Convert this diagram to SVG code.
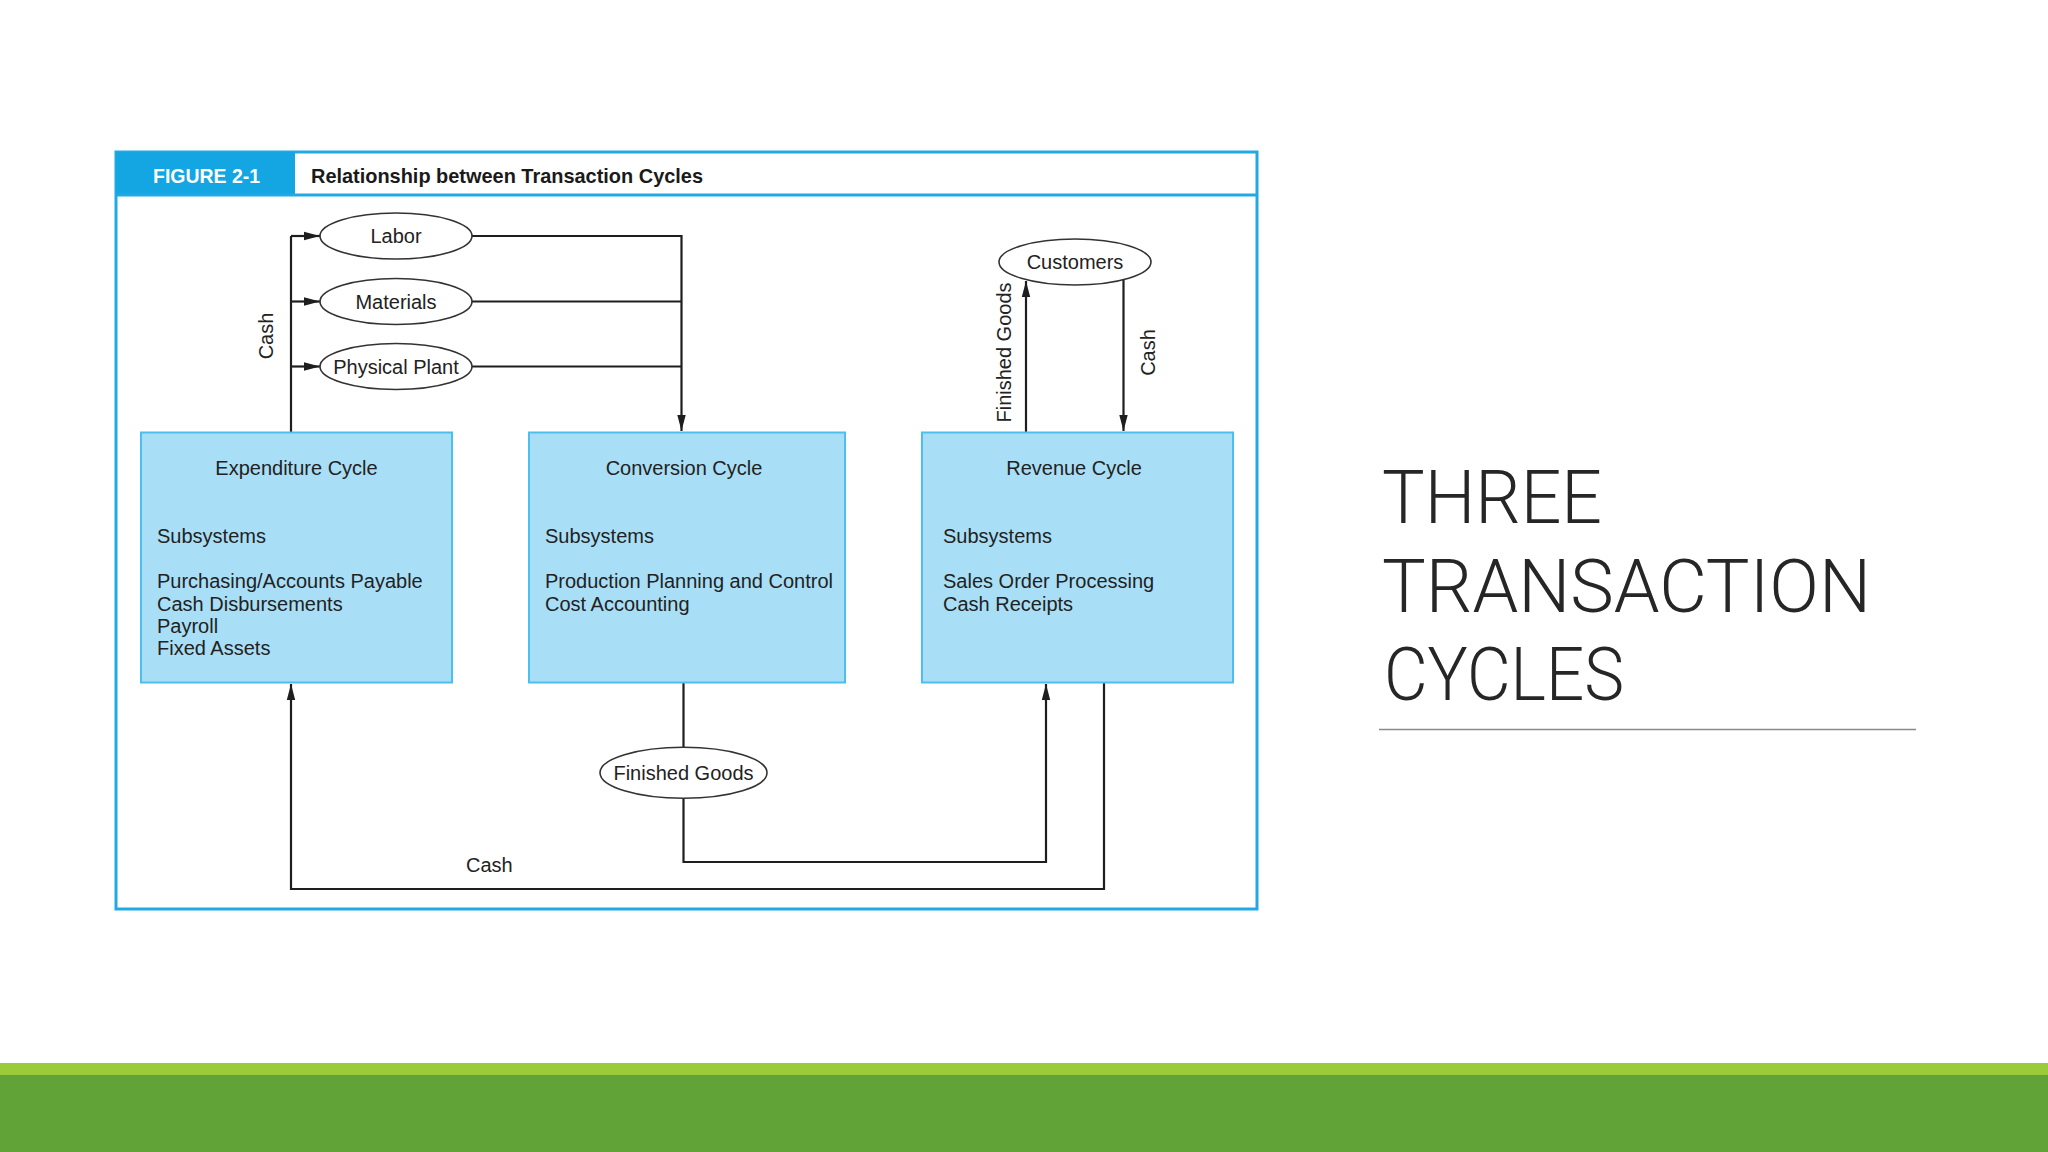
<svg xmlns="http://www.w3.org/2000/svg" width="2048" height="1152" viewBox="0 0 2048 1152">
<defs>
<style>
.t{font-family:"Liberation Sans",Arial,sans-serif;font-size:20px;fill:#222}
.hb{font-family:"Liberation Sans",Arial,sans-serif;font-size:21px;font-weight:bold}
.box{fill:#A9DFF6;stroke:#4DBFEE;stroke-width:2}
.ell{fill:#fff;stroke:#333;stroke-width:1.6}
.ln{fill:none;stroke:#1e1e1e;stroke-width:2.2}
.big{font-family:Roboto,"Open Sans",sans-serif;font-weight:300;font-size:75px;fill:#262626}
</style>
<marker id="arr" markerUnits="userSpaceOnUse" markerWidth="16" markerHeight="10" refX="16" refY="5" orient="auto">
<path d="M0,0.8 L16,5 L0,9.2 z" fill="#1e1e1e"/>
</marker>
</defs>
<rect width="2048" height="1152" fill="#fff"/>
<g id="footer">
<rect x="0" y="1063" width="2048" height="12" fill="#9BCB3B"/>
<rect x="0" y="1075" width="2048" height="77" fill="#62A337"/>
</g>
<g id="figure-frame">
<rect x="116" y="152" width="1141" height="757" fill="#fff" stroke="#21A9E4" stroke-width="3"/>
<rect x="116" y="152" width="179" height="43" fill="#14A5E3"/>
<line x1="116" y1="195" x2="1257" y2="195" stroke="#21A9E4" stroke-width="3"/>
<text class="hb" x="153" y="183" fill="#fff" textLength="107" lengthAdjust="spacingAndGlyphs">FIGURE 2-1</text>
<text class="hb" x="311" y="183" fill="#1a1a1a" textLength="392" lengthAdjust="spacingAndGlyphs">Relationship between Transaction Cycles</text>
</g>
<g id="connectors">
<path class="ln" d="M291,432 V236"/>
<path class="ln" d="M291,236 H320" marker-end="url(#arr)"/>
<path class="ln" d="M291,301.5 H320" marker-end="url(#arr)"/>
<path class="ln" d="M291,366.5 H320" marker-end="url(#arr)"/>
<path class="ln" d="M472,236 H681.5 V431" marker-end="url(#arr)"/>
<path class="ln" d="M472,301.5 H681.5"/>
<path class="ln" d="M472,366.5 H681.5"/>
<path class="ln" d="M1026,432 V281" marker-end="url(#arr)"/>
<path class="ln" d="M1123.5,280 V431" marker-end="url(#arr)"/>
<path class="ln" d="M683.5,683 V747"/>
<path class="ln" d="M683.5,798 V862 H1046 V684" marker-end="url(#arr)"/>
<path class="ln" d="M1104,683 V889 H291 V684" marker-end="url(#arr)"/>
<text class="t" transform="translate(273,336) rotate(-90)" text-anchor="middle">Cash</text>
<text class="t" transform="translate(1011,352.5) rotate(-90)" text-anchor="middle">Finished Goods</text>
<text class="t" transform="translate(1155,352.5) rotate(-90)" text-anchor="middle">Cash</text>
<text class="t" x="466" y="871.5">Cash</text>
</g>
<g id="labor">
<ellipse class="ell" cx="396" cy="236" rx="76" ry="23"/>
<text class="t" x="396" y="243" text-anchor="middle">Labor</text>
</g>
<g id="materials">
<ellipse class="ell" cx="396" cy="301.5" rx="76" ry="23"/>
<text class="t" x="396" y="308.5" text-anchor="middle">Materials</text>
</g>
<g id="physical-plant">
<ellipse class="ell" cx="396" cy="366.5" rx="76" ry="23"/>
<text class="t" x="396" y="373.5" text-anchor="middle">Physical Plant</text>
</g>
<g id="customers">
<ellipse class="ell" cx="1075" cy="262" rx="76" ry="23"/>
<text class="t" x="1075" y="269" text-anchor="middle">Customers</text>
</g>
<g id="finished-goods">
<ellipse class="ell" cx="683.5" cy="772.8" rx="83.5" ry="25.5"/>
<text class="t" x="683.5" y="779.5" text-anchor="middle">Finished Goods</text>
</g>
<g id="expenditure-cycle">
<rect class="box" x="141" y="432.5" width="311" height="250"/>
<text class="t" x="296.5" y="475" text-anchor="middle">Expenditure Cycle</text>
<text class="t" x="157" y="542.5">Subsystems</text>
<text class="t" x="157" y="588.3">Purchasing/Accounts Payable</text>
<text class="t" x="157" y="610.6">Cash Disbursements</text>
<text class="t" x="157" y="632.9">Payroll</text>
<text class="t" x="157" y="655.2">Fixed Assets</text>
</g>
<g id="conversion-cycle">
<rect class="box" x="529" y="432.5" width="316" height="250"/>
<text class="t" x="684" y="475" text-anchor="middle">Conversion Cycle</text>
<text class="t" x="545" y="542.5">Subsystems</text>
<text class="t" x="545" y="588.3">Production Planning and Control</text>
<text class="t" x="545" y="610.6">Cost Accounting</text>
</g>
<g id="revenue-cycle">
<rect class="box" x="922" y="432.5" width="311" height="250"/>
<text class="t" x="1074" y="475" text-anchor="middle">Revenue Cycle</text>
<text class="t" x="943" y="542.5">Subsystems</text>
<text class="t" x="943" y="588.3">Sales Order Processing</text>
<text class="t" x="943" y="610.6">Cash Receipts</text>
</g>
<g id="slide-title">
<text class="big" x="1382" y="522.5" textLength="220" lengthAdjust="spacingAndGlyphs">THREE</text>
<text class="big" x="1382" y="611.5" textLength="489" lengthAdjust="spacingAndGlyphs">TRANSACTION</text>
<text class="big" x="1384" y="700" textLength="240" lengthAdjust="spacingAndGlyphs">CYCLES</text>
<line x1="1379" y1="729.5" x2="1916" y2="729.5" stroke="#8a8a8a" stroke-width="1.5"/>
</g>
</svg>
